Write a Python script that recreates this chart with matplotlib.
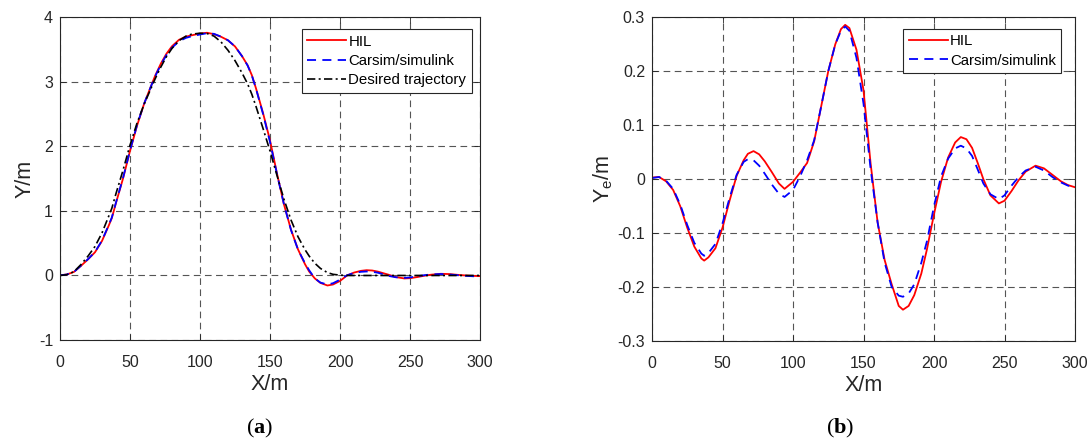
import numpy as np
import matplotlib
matplotlib.use("Agg")
import matplotlib.pyplot as plt
from matplotlib.ticker import FuncFormatter

plt.rcParams["font.family"] = ["Liberation Sans", "DejaVu Sans"]
plt.rcParams["mathtext.fontset"] = "custom"
plt.rcParams["mathtext.rm"] = "Liberation Sans"
plt.rcParams["mathtext.bf"] = "Liberation Serif:bold"

# longitudinal position X (m)
x_pos = [0, 5, 10, 15, 20, 25, 30, 35, 37, 40, 45, 50, 55, 60, 65, 68, 72, 76, 80,
         85, 90, 94, 100, 105, 110, 115, 120, 125, 130, 134, 137, 140, 145, 150,
         155, 160, 165, 170, 175, 178, 182, 186, 191, 195, 200, 205, 210, 215,
         219, 223, 227, 231, 235, 240, 246, 250, 255, 260, 265, 272, 278, 284,
         290, 295, 300]

# (a) lateral position Y (m)
desired_y = [0.0, 0.012, 0.06, 0.17, 0.3, 0.45, 0.66, 0.93, 1.04, 1.27, 1.63, 2.02,
             2.36, 2.65, 2.9, 3.05, 3.23, 3.39, 3.52, 3.64, 3.71, 3.74, 3.755, 3.75,
             3.71, 3.62, 3.49, 3.33, 3.14, 2.97, 2.81, 2.62, 2.28, 1.93, 1.55, 1.18,
             0.86, 0.6, 0.4, 0.3, 0.19, 0.11, 0.045, 0.018, 0.005, 0.0, 0.0, 0.0,
             0.0, 0.0, 0.0, 0.0, 0.0, 0.0, 0.0, 0.0, 0.0, 0.0, 0.0, 0.0, 0.0, 0.0,
             0.0, 0.0, 0.0]
hil_y = [0.003, 0.016, 0.056, 0.15, 0.25, 0.36, 0.535, 0.783, 0.889, 1.125, 1.502,
         1.93, 2.32, 2.656, 2.935, 3.097, 3.282, 3.436, 3.553, 3.653, 3.702, 3.722,
         3.75, 3.762, 3.74, 3.70, 3.645, 3.55, 3.40, 3.258, 3.106, 2.90, 2.52, 2.095,
         1.58, 1.10, 0.71, 0.405, 0.175, 0.06, -0.045, -0.115, -0.155, -0.14, -0.085,
         0.0, 0.045, 0.072, 0.082, 0.077, 0.06, 0.035, 0.01, -0.025, -0.046, -0.042,
         -0.025, -0.005, 0.012, 0.026, 0.022, 0.01, 0.0, -0.006, -0.01]
carsim_y = [0.002, 0.016, 0.057, 0.152, 0.253, 0.365, 0.542, 0.792, 0.898, 1.133,
            1.51, 1.938, 2.33, 2.658, 2.932, 3.087, 3.265, 3.415, 3.53, 3.63, 3.683,
            3.707, 3.735, 3.755, 3.745, 3.702, 3.645, 3.55, 3.40, 3.255, 3.103, 2.895,
            2.505, 2.07, 1.57, 1.10, 0.705, 0.40, 0.19, 0.08, -0.045, -0.11, -0.14,
            -0.12, -0.065, 0.003, 0.038, 0.057, 0.062, 0.057, 0.043, 0.018, -0.008,
            -0.028, -0.037, -0.03, -0.012, 0.004, 0.016, 0.023, 0.016, 0.004, -0.006,
            -0.012, -0.015]

# (b) lateral error Ye (m)
hil_err = [0.003, 0.004, -0.004, -0.02, -0.05, -0.09, -0.125, -0.147, -0.151, -0.145,
           -0.128, -0.09, -0.04, 0.006, 0.035, 0.047, 0.052, 0.046, 0.033, 0.013,
           -0.008, -0.018, -0.005, 0.012, 0.03, 0.07, 0.135, 0.2, 0.25, 0.278, 0.286,
           0.28, 0.24, 0.165, 0.03, -0.08, -0.15, -0.195, -0.235, -0.242, -0.235,
           -0.215, -0.175, -0.13, -0.065, -0.005, 0.04, 0.068, 0.078, 0.074, 0.058,
           0.03, 0.0, -0.03, -0.045, -0.04, -0.022, -0.002, 0.014, 0.025, 0.02, 0.008,
           -0.004, -0.011, -0.015]
carsim_err = [0.002, 0.004, -0.003, -0.018, -0.047, -0.085, -0.118, -0.138, -0.142,
              -0.137, -0.12, -0.082, -0.035, 0.008, 0.032, 0.037, 0.035, 0.025, 0.01,
              -0.01, -0.027, -0.033, -0.02, 0.005, 0.035, 0.072, 0.135, 0.2, 0.25,
              0.275, 0.283, 0.275, 0.225, 0.14, 0.02, -0.08, -0.155, -0.2, -0.216,
              -0.218, -0.212, -0.195, -0.155, -0.115, -0.05, 0.005, 0.038, 0.057, 0.062,
              0.057, 0.043, 0.018, -0.008, -0.028, -0.037, -0.03, -0.012, 0.004, 0.016,
              0.023, 0.016, 0.004, -0.006, -0.012, -0.015]

W, H = 1091, 441
fig = plt.figure(figsize=(W / 100, H / 100), dpi=100)
ax_a = fig.add_axes([60 / W, 1 - 340 / H, 420 / W, 322.6 / H])
ax_b = fig.add_axes([652 / W, 1 - 341 / H, 423 / W, 323.7 / H])

dark = "#262626"


def style_axes(ax):
    ax.grid(True, color="#555555", linestyle=(0, (6, 4)), linewidth=0.8)
    ax.set_axisbelow(True)
    ax.tick_params(direction="in", top=True, right=True, length=4, width=0.6,
                   colors=dark, labelsize=11.5)
    ax.tick_params(axis="x", pad=11)
    ax.tick_params(axis="y", pad=5)
    for s in ax.spines.values():
        s.set_color(dark)
        s.set_linewidth(0.8)
    ax.set_xlim(0, 300)
    ax.set_xticks(range(0, 301, 50))
    ax.set_xlabel("X/m", fontsize=15.5, color=dark, labelpad=3)


def plain_minus(v, pos):
    s = f"{v:g}"
    return "0" if s in ("0", "-0") else s


def add_legend(ax, right, top):
    leg = ax.legend(loc="upper right", bbox_to_anchor=(right, top), fontsize=10.8,
                    fancybox=False, framealpha=1, edgecolor=dark, borderpad=0.35,
                    handlelength=2.6, handletextpad=0.15, labelspacing=0.36,
                    borderaxespad=0)
    leg.get_frame().set_linewidth(0.8)


# (a) trajectories
ax_a.plot(x_pos, hil_y, color="red", linewidth=1.3, label="HIL")
ax_a.plot(x_pos, carsim_y, color="blue", linewidth=1.3, linestyle=(0, (5, 3.5)),
          label="Carsim/simulink")
ax_a.plot(x_pos, desired_y, color="black", linewidth=1.2,
          linestyle=(0, (5, 2, 1.2, 2)), label="Desired trajectory")
style_axes(ax_a)
ax_a.set_ylim(-1, 4)
ax_a.set_yticks(range(-1, 5))
ax_a.yaxis.set_major_formatter(FuncFormatter(plain_minus))
ax_a.set_ylabel("Y/m", fontsize=15.5, color=dark, labelpad=2)
add_legend(ax_a, 0.980, 0.963)

# (b) lateral error
ax_b.plot(x_pos, hil_err, color="red", linewidth=1.3, label="HIL")
ax_b.plot(x_pos, carsim_err, color="blue", linewidth=1.3, linestyle=(0, (5, 3.5)),
          label="Carsim/simulink")
style_axes(ax_b)
ax_b.set_ylim(-0.3, 0.3)
ax_b.set_yticks(np.round(np.arange(-0.3, 0.31, 0.1), 1))
ax_b.yaxis.set_major_formatter(FuncFormatter(plain_minus))
ax_b.set_ylabel(r"Y$_\mathrm{e}$/m", fontsize=15.5, color=dark, labelpad=2)
add_legend(ax_b, 0.967, 0.964)

# sub-figure captions
fig.text(259.5 / W, 1 - 428.5 / H, r"($\mathbf{a}$)", ha="center", va="center",
         fontsize=16, family="Liberation Serif")
fig.text(840 / W, 1 - 428.5 / H, r"($\mathbf{b}$)", ha="center", va="center",
         fontsize=16, family="Liberation Serif")

fig.savefig("out.png", dpi=100)
